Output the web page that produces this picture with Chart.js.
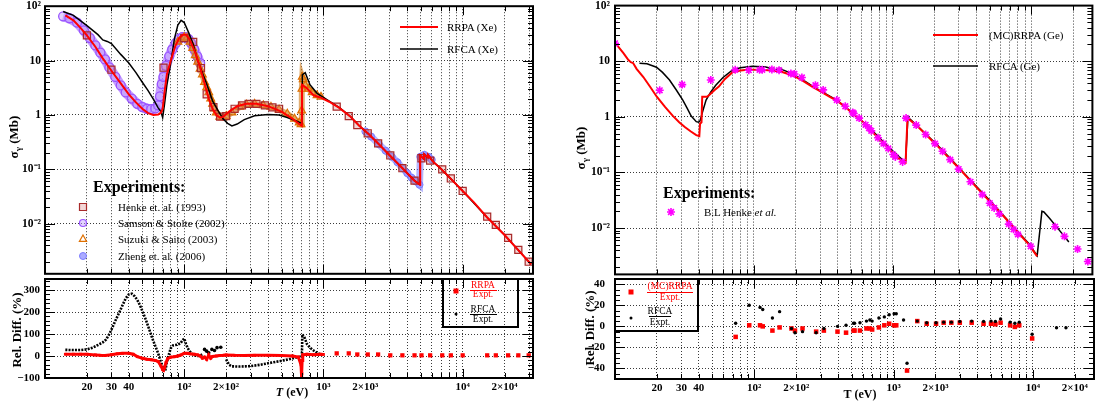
<!DOCTYPE html>
<html>
<head>
<meta charset="utf-8">
<script src="https://cdn.jsdelivr.net/npm/chart.js@4.4.1/dist/chart.umd.min.js"></script>
<style>
  body { margin: 0; width: 1098px; height: 404px; position: relative; overflow: hidden; background: #fff;
         font-family: 'Liberation Serif', 'Times New Roman', serif; color: #000; }
  canvas { position: absolute; }
  .t { position: absolute; white-space: nowrap; line-height: 1; transform: translateY(-50%); }
  .lg { font-size: 11px; }
  .exp { font-size: 16px; font-weight: bold; }
  .yt { position: absolute; white-space: nowrap; line-height: 1; font-weight: bold; font-size: 13px;
        transform: translate(-50%, -50%) rotate(-90deg); }
  .xt { position: absolute; white-space: nowrap; line-height: 1; font-weight: bold; font-size: 12px;
        transform: translate(-50%, -50%); }
  .fr { position: absolute; white-space: nowrap; line-height: 1; font-size: 9.5px; transform: translate(-50%, -50%); }
  .bar { position: absolute; height: 1px; }
  sub { font-size: 70%; vertical-align: -3px; }
</style>
</head>
<body>
<canvas id="xeTop" width="545" height="280" style="left:0;top:0"></canvas>
<canvas id="xeRel" width="545" height="134" style="left:0;top:270px"></canvas>
<canvas id="geTop" width="538" height="280" style="left:560px;top:0"></canvas>
<canvas id="geRel" width="538" height="134" style="left:560px;top:270px"></canvas>

<!-- left panel texts -->
<div class="t lg" style="left:447px;top:27px">RRPA (Xe)</div>
<div class="t lg" style="left:447px;top:49px">RFCA (Xe)</div>
<div class="t exp" style="left:93px;top:187px">Experiments:</div>
<div class="t lg" style="left:118px;top:207px">Henke et. al. (1993)</div>
<div class="t lg" style="left:118px;top:223px">Samson &amp; Stolte (2002)</div>
<div class="t lg" style="left:118px;top:239px">Suzuki &amp; Saito (2003)</div>
<div class="t lg" style="left:118px;top:256px">Zheng et. al. (2006)</div>
<div class="yt" style="left:15px;top:137px">σ<sub>γ</sub> (Mb)</div>
<div class="yt" style="left:16px;top:330px">Rel. Diff. (%)</div>
<div class="xt" style="left:292px;top:392px"><i>T</i> (eV)</div>
<div class="fr" style="left:483px;top:286px;color:#f00">RRPA</div>
<div class="bar" style="left:470px;top:290px;width:27px;background:#f00"></div>
<div class="fr" style="left:483px;top:295px;color:#f00">Expt.</div>
<div class="fr" style="left:483px;top:310px">RFCA</div>
<div class="bar" style="left:470px;top:314px;width:27px;background:#000"></div>
<div class="fr" style="left:483px;top:320px">Expt.</div>

<!-- right panel texts -->
<div class="t lg" style="left:989px;top:35px">(MC)RRPA (Ge)</div>
<div class="t lg" style="left:989px;top:66px">RFCA (Ge)</div>
<div class="t exp" style="left:663px;top:193px">Experiments:</div>
<div class="t lg" style="left:704px;top:212px">B.L Henke <i>et al.</i></div>
<div class="yt" style="left:582px;top:148px">σ<sub>γ</sub> (Mb)</div>
<div class="yt" style="left:589px;top:328px">Rel. Diff. (%)</div>
<div class="xt" style="left:860px;top:394px">T (eV)</div>
<div class="fr" style="left:670px;top:287px;color:#f00">(MC)RRPA</div>
<div class="bar" style="left:647px;top:292px;width:46px;background:#f00"></div>
<div class="fr" style="left:670px;top:298px;color:#f00">Expt.</div>
<div class="fr" style="left:660px;top:312px">RFCA</div>
<div class="bar" style="left:649px;top:316px;width:22px;background:#000"></div>
<div class="fr" style="left:660px;top:323px">Expt.</div>

<script>
'use strict';

// ---------- Xe (left panel) ----------
const xeRrpaE = [14, 16, 18, 20, 23, 26, 30, 35, 40, 45, 50, 55, 60, 65, 68, 70, 72, 75, 80, 86, 92, 98, 103, 110, 120, 130, 140, 150, 160, 170, 180, 190, 210, 240, 280, 330, 400, 500, 600, 680, 700, 702, 760, 850, 950, 1100, 1300, 1550, 1800, 2100, 2500, 3000, 3700, 4500, 4940, 4955, 5270, 5285, 5620, 5640, 6100, 7000, 8000, 10000, 12000, 15000, 20000, 25000, 31000];
const xeRrpaS = [68, 55, 40, 29, 18, 11, 6.5, 3.8, 2.4, 1.7, 1.3, 1.08, 1.0, 1.02, 1.1, 1.3, 2.5, 5.5, 10, 18, 26, 30, 30, 24, 14, 7.5, 3.8, 2.0, 1.3, 1.0, 0.9, 0.92, 1.15, 1.45, 1.6, 1.6, 1.45, 1.15, 0.85, 0.66, 0.63, 3.6, 3.1, 2.3, 2.1, 1.75, 1.35, 0.95, 0.64, 0.45, 0.29, 0.18, 0.105, 0.062, 0.052, 0.18, 0.155, 0.19, 0.165, 0.185, 0.14, 0.102, 0.072, 0.04, 0.025, 0.013, 0.0062, 0.0033, 0.0018];

const xeRfcaE = [13.5, 16, 20, 24, 26, 28, 30, 35, 40, 45, 50, 55, 60, 65, 68, 70, 72, 75, 80, 85, 90, 95, 100, 108, 116, 125, 135, 145, 160, 175, 190, 205, 220, 240, 270, 320, 400, 480, 550, 620, 700, 706, 740, 800, 900, 1000, 1100, 1300, 1550, 1800, 2100, 2500, 3000, 3700, 4500, 4940, 4955, 5270, 5285, 5620, 5640, 6100, 7000, 8000, 10000, 15000, 20000, 31000];
const xeRfcaS = [80, 68, 44, 30, 24, 22.5, 20.5, 13, 9, 6, 4, 2.8, 1.95, 1.35, 1.15, 0.9, 1.5, 3.5, 9, 25, 45, 55, 50, 32, 20, 10, 6, 3.7, 1.8, 1.2, 0.85, 0.7, 0.63, 0.68, 0.82, 0.97, 1.02, 1.0, 0.9, 0.8, 0.7, 5.5, 6.0, 3.6, 2.5, 2.1, 1.8, 1.36, 0.95, 0.64, 0.45, 0.29, 0.18, 0.105, 0.062, 0.052, 0.18, 0.155, 0.19, 0.165, 0.185, 0.14, 0.102, 0.072, 0.04, 0.013, 0.0062, 0.0018];

const henkeXeE = [20, 30, 71, 100, 116, 132, 145, 162, 181, 200, 230, 260, 290, 330, 380, 430, 480, 1245, 1520, 1750, 2080, 2470, 3020, 3690, 4510, 5060, 5840, 7130, 8220, 10000, 15000, 17300, 21200, 25100, 29800];
const henkeXeS = [29, 6.8, 7.4, 26, 22, 7.3, 2.4, 1.4, 0.93, 0.95, 1.3, 1.5, 1.6, 1.6, 1.5, 1.38, 1.3, 1.42, 0.95, 0.65, 0.46, 0.3, 0.18, 0.105, 0.062, 0.16, 0.145, 0.1, 0.068, 0.04, 0.0135, 0.0095, 0.0055, 0.0033, 0.002];

const samsonE = [13.5, 15, 17, 19, 21, 23, 25, 27, 29, 32, 35, 38, 42, 46, 50, 54, 58, 62, 65, 67, 69, 71, 74, 78, 82, 87, 92, 97, 102, 107, 112, 118, 124, 130];
const samsonS = [65, 60, 50, 36, 26, 19, 14, 10.5, 7.5, 5.0, 3.5, 2.6, 2.0, 1.6, 1.4, 1.3, 1.28, 1.32, 1.5, 2.2, 3.7, 5.0, 8, 12, 16, 21, 25, 27, 27, 25, 21, 16, 12, 9];

const suzukiE = [90, 95, 100, 105, 110, 115, 120, 125, 130, 135, 140, 145, 150, 155, 160, 165, 170, 180, 190, 200, 220, 250, 280, 320, 370, 420, 480, 550, 620, 670, 690, 697, 701, 705, 715, 740, 780, 830, 900, 960];
const suzukiS = [22, 25, 27, 26, 22, 17, 12.5, 9.5, 7, 5.5, 4, 3.2, 2.6, 2.0, 1.6, 1.3, 1.1, 0.92, 0.9, 0.95, 1.1, 1.4, 1.55, 1.6, 1.5, 1.4, 1.25, 1.05, 0.85, 0.72, 0.67, 1.2, 3.0, 5.0, 4.5, 3.5, 3.0, 2.6, 2.3, 2.15];

const zhengE = [2000, 2200, 2500, 2800, 3100, 3400, 3700, 4000, 4300, 4600, 4900, 4960, 5100, 5300, 5500, 5700, 6000];
const zhengS = [0.5, 0.4, 0.29, 0.22, 0.17, 0.135, 0.105, 0.085, 0.07, 0.06, 0.052, 0.17, 0.175, 0.185, 0.17, 0.17, 0.15];

// relative differences (%), Xe
const xeRelRrpaE = [14, 16, 18, 20, 23, 25, 27, 30, 33, 36, 40, 43, 46, 50, 54, 58, 62, 65, 68, 70, 71, 72, 74, 76, 80, 85, 90, 95, 100, 105, 110, 118, 125, 130, 135, 140, 145, 150, 155, 160, 170, 180, 190, 200, 230, 270, 320, 400, 500, 600, 660, 690, 695, 700, 703, 710, 760, 850, 950, 1000];
const xeRelRrpaV = [8, 8, 8, 8, 5, 3, 2, 6, 10, 12, 12, 8, -3, -10, -15, -17, -20, -25, -45, -62, -65, -55, -30, -12, -5, -3, 0, 5, 12, 12, 10, 8, 5, 0, -10, -5, -15, 5, -10, -2, 0, 2, 3, 5, 3, 2, 3, 3, 2, 0, -5, -40, -100, -80, -20, 5, 8, 6, 8, 7];

const xeRelRfcaLowE = [14, 16, 18, 20, 22, 24, 26, 27.5, 29, 30, 32, 34, 36, 38, 40, 42, 44, 46, 48, 50, 53, 56, 59, 62, 65, 68, 71, 73, 75, 77, 80, 83, 86, 90, 94, 97, 100, 103, 106, 110, 115, 120, 125, 130, 135];
const xeRelRfcaLowV = [28, 27, 27, 30, 38, 50, 62, 75, 100, 120, 160, 195, 230, 262, 280, 283, 272, 255, 232, 205, 165, 122, 80, 45, 12, -28, -60, -68, -30, 0, 35, 48, 50, 52, 58, 70, 80, 55, 35, 20, 8, 2, 0, 2, 8];
const xeRelRfcaMidE = [140, 145, 150, 158, 165, 172, 183];
const xeRelRfcaMidV = [30, 22, 15, 30, 25, 38, 40];
const xeRelRfcaHighE = [200, 210, 220, 250, 300, 350, 400, 450, 500, 560, 620, 680, 700, 705, 730, 760, 800, 850, 900, 950, 1000];
const xeRelRfcaHighV = [-15, -40, -47, -48, -46, -40, -33, -27, -22, -15, -8, -3, -2, 98, 85, 55, 38, 25, 14, 8, 5];

const xeRelKevE = [1245, 1520, 1750, 2080, 2470, 3020, 3690, 4510, 5060, 5840, 7130, 8220, 10000, 15000, 17300, 21200, 25100, 29800];
const xeRelKevRrpaV = [12, 12, 7, 7, 7, 3, 3, 3, 3, 3, 3, 3, 3, 3, 3, 3, 3, 3];
const xeRelKevRfcaV = [10, 10, 6, 6, 6, 3, 3, 3, 3, 3, 3, 3, 3, 3, 3, 3, 3, 3];

// ---------- Ge (right panel) ----------
const geRrpaE = [10, 11.5, 12.5, 13, 13.5, 14.3, 16, 18, 20, 23, 26, 29, 32, 35, 38.5, 40.5, 41, 42, 42.5, 46, 48, 52, 56, 62, 70, 80, 90, 110, 136, 160, 189, 220, 263, 300, 350, 396, 450, 508, 580, 668, 800, 929, 1050, 1190, 1240, 1280, 1330, 1480, 1750, 2100, 2640, 3000, 3670, 4500, 5390, 6500, 7940, 9500, 11000];
const geRrpaS = [21.6, 14, 10.5, 9.6, 9.3, 7.3, 5.2, 3.4, 2.3, 1.5, 1.05, 0.8, 0.65, 0.55, 0.47, 0.45, 0.75, 0.8, 2.3, 2.3, 2.5, 3.0, 3.5, 4.8, 6.3, 6.8, 7.0, 7.0, 6.8, 6.4, 5.6, 4.6, 3.5, 2.9, 2.3, 1.95, 1.55, 1.18, 0.92, 0.64, 0.4, 0.27, 0.2, 0.154, 0.15, 0.96, 0.88, 0.71, 0.47, 0.3, 0.166, 0.12, 0.069, 0.04, 0.025, 0.015, 0.0085, 0.0052, 0.0031];

const geRfcaE = [15, 17, 19.9, 22, 24.7, 27.5, 30.8, 33, 35.4, 38.5, 40, 41, 43, 45.3, 49, 53.2, 60, 70, 80, 97.7, 122, 144, 150, 155, 162, 189, 220, 263, 300, 396, 508, 668, 929, 1190, 1240, 1290, 1340, 1480, 1750, 2100, 2640, 3670, 5390, 7940, 9500, 11000, 11900, 12300, 13500, 15300, 18600];
const geRfcaS = [9.2, 9.0, 7.8, 6.3, 4.6, 3.1, 2.0, 1.45, 1.03, 0.82, 0.8, 0.85, 1.3, 2.0, 2.8, 3.7, 5.1, 6.9, 7.6, 8.1, 7.9, 7.0, 7.4, 7.5, 7.0, 6.0, 4.8, 3.6, 2.95, 2.0, 1.22, 0.67, 0.29, 0.165, 0.16, 1.0, 0.9, 0.72, 0.48, 0.31, 0.172, 0.071, 0.026, 0.0088, 0.0054, 0.0032, 0.02, 0.0195, 0.015, 0.0103, 0.0056];

const henkeGeE = [10, 21, 30.5, 49, 73.5, 92, 110, 115, 135, 152, 185, 196, 222, 278, 316, 396, 456, 516, 525, 574, 639, 676, 702, 785, 859, 930, 1010, 1046, 1180, 1250, 1480, 1730, 2020, 2290, 2600, 2990, 3640, 4430, 5010, 5390, 5870, 6870, 7430, 7990, 9890, 14800, 17300, 21500, 25500];
const henkeGeS = [21, 3.0, 3.8, 4.6, 7.0, 6.9, 7.0, 7.0, 7.1, 6.9, 6.0, 5.9, 5.1, 3.7, 3.05, 2.0, 1.55, 1.2, 1.15, 0.95, 0.72, 0.63, 0.56, 0.42, 0.33, 0.27, 0.21, 0.19, 0.155, 0.95, 0.71, 0.48, 0.33, 0.24, 0.17, 0.115, 0.068, 0.04, 0.028, 0.023, 0.018, 0.0118, 0.0095, 0.0077, 0.0047, 0.0106, 0.0071, 0.0042, 0.0025];

const geRelE = [73.5, 92, 110, 115, 135, 152, 185, 196, 222, 278, 316, 396, 456, 516, 525, 574, 639, 676, 702, 785, 859, 930, 1010, 1046, 1180, 1250, 1480, 1730, 2020, 2290, 2600, 2990, 3640, 4430, 5010, 5390, 5870, 6870, 7430, 7990, 9890, 14800, 17300];
const geRelRrpaV = [-10, 1, 1, 0, -4, -1, -2, -4, -2, -5, -4, -5, -6, -4, -4, -4, -2, -2, -3, -1, 1, 2.5, 1, 1, null, -42, 5, 2.5, 2.5, 3.5, 3.5, 3.5, 3.5, 2.5, 2.5, 2, 3.5, 1, -0.5, 1, -11.5, null, null];
const geRelRfcaV = [3, 20, 18, 16, 8, 14, -2, -6, -5, -6, -2, 0, 1, 3, 3, 3.5, 5, 6, 5, 8, 9, 11, 12, 12, 6, -35, 5, 3.5, 3.5, 4, 4, 4.7, 5, 4.7, 5, 4.7, 7, 4, 3, 4, -7.5, -1.3, -1.3];

// ---------- axis ticks ----------
const xTickText = {20: '20', 30: '30', 40: '40', 100: '10²', 200: '2×10²', 1000: '10³', 2000: '2×10³', 10000: '10⁴', 20000: '2×10⁴'};
const yLogText = {100: '10²', 10: '10', 1: '1', 0.1: '10⁻¹', 0.01: '10⁻²'};
const decades = [0.001, 0.01, 0.1, 1, 10, 100];
const xMajor = [10, 100, 1000, 10000];
const xGridTicks = [];
for (let d = 10; d <= 10000; d *= 10) for (let k = 1; k <= 9; k++) xGridTicks.push(d * k);
const yLogMinor = [];
for (const d of decades.slice(0, 5)) for (let k = 1; k <= 9; k++) yLogMinor.push(d * k);
const xeRelLabels = [-100, 0, 100, 200, 300];
const geRelLabels = [-40, -20, 0, 20, 40];
const xeRelMinor = [];
for (let v = -100; v <= 340; v += 20) xeRelMinor.push(v);
const geRelMinor = [];
for (let v = -50; v <= 45; v += 5) geRelMinor.push(v);

const pts = (xs, ys) => xs.map((x, i) => ({x: x, y: ys[i]}));
const serif = "'Liberation Serif', 'Times New Roman', serif";

// frame ticks and legend marks per canvas (kept outside chart options)
const frameSpec = {
  xeTop: {
    yTicks: yLogMinor, yMajor: decades,
    marks: [
      {type: 'line', x: 400, x2: 438, y: 27, stroke: '#ff0000', lw: 2},
      {type: 'line', x: 400, x2: 438, y: 49, stroke: '#000000', lw: 1.5},
      {type: 'rect', x: 83, y: 207, r: 3.5, stroke: '#a82a2a', fill: 'rgba(215,120,120,0.3)', lw: 1.2},
      {type: 'circle', x: 83, y: 223, r: 3.5, stroke: '#9a55ff', fill: 'rgba(200,170,255,0.5)', lw: 1.2},
      {type: 'tri', x: 83, y: 239, r: 4, stroke: '#e07000', lw: 1.2},
      {type: 'circle', x: 83, y: 256, r: 3.5, stroke: '#7b7bff', fill: 'rgba(150,150,255,0.8)', lw: 1}
    ]
  },
  xeRel: {
    yTicks: xeRelMinor, yMajor: xeRelLabels,
    marks: [
      {type: 'box', x: 443, y: 9, w: 75, h: 48, stroke: '#000', lw: 2},
      {type: 'rect', x: 456, y: 21, r: 2.5, fill: '#ff0000'},
      {type: 'circle', x: 456, y: 44, r: 1.5, fill: '#000'}
    ]
  },
  geTop: {
    yTicks: yLogMinor, yMajor: decades,
    marks: [
      {type: 'line', x: 373, x2: 418, y: 35, stroke: '#ff0000', lw: 2},
      {type: 'line', x: 373, x2: 418, y: 66, stroke: '#000000', lw: 1.5},
      {type: 'star', x: 111, y: 212, r: 4, stroke: '#ff00ff', lw: 1.6}
    ]
  },
  geRel: {
    yTicks: geRelMinor, yMajor: geRelLabels,
    marks: [
      {type: 'box', x: 55, y: 9, w: 83, h: 52, stroke: '#000', lw: 2},
      {type: 'rect', x: 71, y: 22, r: 2.5, fill: '#ff0000'},
      {type: 'circle', x: 71, y: 48, r: 1.5, fill: '#000'}
    ]
  }
};

function drawMark(ctx, m) {
  ctx.save();
  ctx.lineWidth = m.lw || 1;
  ctx.beginPath();
  if (m.type === 'line') { ctx.moveTo(m.x, m.y); ctx.lineTo(m.x2, m.y); }
  else if (m.type === 'rect') ctx.rect(m.x - m.r, m.y - m.r, 2 * m.r, 2 * m.r);
  else if (m.type === 'circle') ctx.arc(m.x, m.y, m.r, 0, 2 * Math.PI);
  else if (m.type === 'tri') {
    ctx.moveTo(m.x, m.y - m.r);
    ctx.lineTo(m.x + m.r * 0.9, m.y + m.r * 0.6);
    ctx.lineTo(m.x - m.r * 0.9, m.y + m.r * 0.6);
    ctx.closePath();
  } else if (m.type === 'star') {
    ctx.moveTo(m.x - m.r, m.y); ctx.lineTo(m.x + m.r, m.y);
    ctx.moveTo(m.x, m.y - m.r); ctx.lineTo(m.x, m.y + m.r);
    const q = m.r * 0.72;
    ctx.moveTo(m.x - q, m.y - q); ctx.lineTo(m.x + q, m.y + q);
    ctx.moveTo(m.x - q, m.y + q); ctx.lineTo(m.x + q, m.y - q);
  } else if (m.type === 'box') ctx.rect(m.x, m.y, m.w, m.h);
  if (m.fill) { ctx.fillStyle = m.fill; ctx.fill(); }
  if (m.stroke) { ctx.strokeStyle = m.stroke; ctx.stroke(); }
  ctx.restore();
}

const frameTicks = {
  id: 'frameTicks',
  afterDraw(chart) {
    const o = frameSpec[chart.canvas.id];
    const ctx = chart.ctx, a = chart.chartArea;
    const sx = chart.scales.x, sy = chart.scales.y;
    ctx.save();
    ctx.strokeStyle = '#000';
    ctx.lineWidth = 1;
    ctx.beginPath();
    for (const v of xGridTicks) {
      if (v < sx.min || v > sx.max) continue;
      const p = Math.round(sx.getPixelForValue(v)) + 0.5;
      const l = xMajor.includes(v) ? 9 : 5;
      ctx.moveTo(p, a.bottom); ctx.lineTo(p, a.bottom - l);
      ctx.moveTo(p, a.top); ctx.lineTo(p, a.top + l);
    }
    for (const v of o.yTicks) {
      if (v < sy.min || v > sy.max) continue;
      const p = Math.round(sy.getPixelForValue(v)) + 0.5;
      const l = o.yMajor.includes(v) ? 10 : 5;
      ctx.moveTo(a.left, p); ctx.lineTo(a.left + l, p);
      ctx.moveTo(a.right, p); ctx.lineTo(a.right - l, p);
    }
    ctx.stroke();
    ctx.lineWidth = 2;
    ctx.strokeRect(a.left, a.top, a.width, a.height);
    o.marks.forEach(m => drawMark(ctx, m));
    ctx.restore();
  }
};

const gridOpts = {color: '#3a3a3a', lineWidth: 1, drawTicks: false};
const borderOpts = {display: false, dash: [1, 2]};
const noPad = ax => { ax.paddingLeft = 0; ax.paddingRight = 0; ax.paddingTop = 0; ax.paddingBottom = 0; };

function logX(max, labels, h) {
  return {
    type: 'logarithmic', min: 10, max: max,
    afterBuildTicks: ax => { ax.ticks = xGridTicks.filter(v => v <= max).map(v => ({value: v})); },
    afterFit: ax => { ax.height = h; noPad(ax); },
    ticks: {display: labels, autoSkip: false, maxRotation: 0, padding: 3, color: '#000',
            font: {family: serif, size: 11, weight: 'bold'}, callback: v => xTickText[v] || ''},
    grid: gridOpts, border: borderOpts
  };
}

function logY(min, width, pad) {
  return {
    type: 'logarithmic', min: min, max: 100,
    afterBuildTicks: ax => { ax.ticks = decades.filter(v => v >= min).map(v => ({value: v})); },
    afterFit: ax => { ax.width = width; noPad(ax); },
    ticks: {autoSkip: false, padding: pad, color: '#000',
            font: {family: serif, size: 11.5, weight: 'bold'}, callback: v => yLogText[v] || ''},
    grid: gridOpts, border: borderOpts
  };
}

function relY(min, max, labels, width, pad) {
  return {
    type: 'linear', min: min, max: max,
    afterBuildTicks: ax => { ax.ticks = labels.map(v => ({value: v})); },
    afterFit: ax => { ax.width = width; noPad(ax); },
    ticks: {autoSkip: false, padding: pad, color: '#000',
            font: {family: serif, size: 11, weight: 'bold'}, callback: v => v < 0 ? '−' + Math.abs(v) : String(v)},
    grid: gridOpts, border: borderOpts
  };
}

function makeChart(id, datasets, pad, x, y) {
  return new Chart(document.getElementById(id), {
    type: 'scatter',
    data: {datasets: datasets},
    options: {
      responsive: false, animation: false, devicePixelRatio: 1, events: [],
      layout: {padding: pad},
      plugins: {legend: {display: false}, tooltip: {enabled: false}},
      scales: {x: x, y: y}
    },
    plugins: [frameTicks]
  });
}

const line = (data, color, width, order) => ({data: data, showLine: true, borderColor: color, borderWidth: width, pointRadius: 0, order: order});

// Xe cross sections
makeChart('xeTop', [
  line(pts(xeRrpaE, xeRrpaS), '#ff0000', 2, 0),
  line(pts(xeRfcaE, xeRfcaS), '#000000', 1.5, 1),
  {data: pts(henkeXeE, henkeXeS), pointStyle: 'rect', pointRadius: 5, pointBorderWidth: 1.2,
   pointBorderColor: '#a82a2a', pointBackgroundColor: 'rgba(215,120,120,0.3)', order: 2},
  {data: pts(zhengE, zhengS), showLine: true, borderColor: 'rgba(120,120,255,0.55)', borderWidth: 7,
   pointStyle: 'circle', pointRadius: 3.5, pointBorderWidth: 1, pointBorderColor: '#7b7bff',
   pointBackgroundColor: 'rgba(150,150,255,0.8)', order: 3},
  {data: pts(suzukiE, suzukiS), showLine: true, borderColor: 'rgba(205,120,20,0.6)', borderWidth: 6,
   pointStyle: 'triangle', pointRadius: 4.5, pointBorderWidth: 1.2, pointBorderColor: '#e07000',
   pointBackgroundColor: 'rgba(230,150,60,0.3)', order: 4},
  {data: pts(samsonE, samsonS), showLine: true, borderColor: 'rgba(160,95,255,0.6)', borderWidth: 10,
   pointStyle: 'circle', pointRadius: 4.5, pointBorderWidth: 1.3, pointBorderColor: '#9a55ff',
   pointBackgroundColor: 'rgba(200,170,255,0.5)', order: 5}
], {top: 4, right: 12, left: 0, bottom: 0}, logX(32000, false, 3), logY(0.0012, 45, 4));

// Xe relative differences
makeChart('xeRel', [
  {data: pts(xeRelRrpaE, xeRelRrpaV), showLine: true, borderColor: '#ff0000', borderWidth: 3,
   pointStyle: 'rect', pointRadius: 2, pointBorderWidth: 0, pointBackgroundColor: '#ff0000', order: 0},
  {data: pts(xeRelKevE, xeRelKevRrpaV), pointStyle: 'rect', pointRadius: 3, pointBorderWidth: 0,
   pointBackgroundColor: '#ff0000', order: 1},
  {data: pts(xeRelRfcaLowE, xeRelRfcaLowV), showLine: true, borderColor: '#000', borderWidth: 2.6,
   borderDash: [2, 1.2], pointRadius: 0, order: 2},
  {data: pts(xeRelRfcaMidE, xeRelRfcaMidV), pointRadius: 1.8, pointBorderWidth: 0, pointBackgroundColor: '#000', order: 3},
  {data: pts(xeRelRfcaHighE, xeRelRfcaHighV), showLine: true, borderColor: '#000', borderWidth: 2.6,
   borderDash: [2, 1.2], pointRadius: 0, order: 4},
  {data: pts(xeRelKevE, xeRelKevRfcaV), pointRadius: 1.5, pointBorderWidth: 0, pointBackgroundColor: '#000', order: 5}
], {top: 9, right: 12, left: 0, bottom: 0}, logX(32000, true, 26), relY(-100, 350, xeRelLabels, 45, 5));

// Ge cross sections
makeChart('geTop', [
  {data: pts(henkeGeE, henkeGeS), pointStyle: 'star', pointRadius: 4, pointBorderWidth: 1.6,
   pointBorderColor: '#ff00ff', pointBackgroundColor: '#ff00ff', order: 0},
  line(pts(geRrpaE, geRrpaS), '#ff0000', 2, 1),
  line(pts(geRfcaE, geRfcaS), '#000000', 1.5, 2)
], {top: 4, right: 2, left: 0, bottom: 0}, logX(27500, false, 2), logY(0.00147, 55, 5));

// Ge relative differences
makeChart('geRel', [
  {data: pts(geRelE, geRelRfcaV), pointRadius: 1.7, pointBorderWidth: 0, pointBackgroundColor: '#000', order: 0},
  {data: pts(geRelE, geRelRrpaV), pointStyle: 'rect', pointRadius: 3.2, pointBorderWidth: 0,
   pointBackgroundColor: '#ff0000', order: 1}
], {top: 9, right: 2, left: 0, bottom: 0}, logX(27500, true, 25), relY(-50, 45, geRelLabels, 55, 10));
</script>
</body>
</html>
